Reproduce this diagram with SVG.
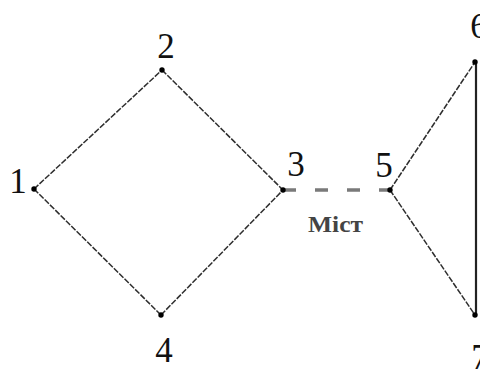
<svg xmlns="http://www.w3.org/2000/svg" width="480" height="369" viewBox="0 0 480 369">
<style>
.edge{stroke:#2e2e2e;stroke-width:1.5;fill:none;stroke-dasharray:6 1.5}
.bridge{stroke:#7a7a7a;stroke-width:3.5;fill:none;stroke-dasharray:13 19}
.solid{stroke:#222;stroke-width:2.2;fill:none}
.dot{fill:#000}
.lbl{font-family:"Liberation Serif","Times New Roman",serif;font-size:35px;fill:#111;text-anchor:middle}
.cap{font-family:"Liberation Serif","Times New Roman",serif;font-size:23px;font-weight:bold;fill:#444}
</style>
<rect width="480" height="369" fill="#fff"/>
<g id="connectors">
<line class="edge" x1="34" y1="189" x2="162" y2="70"/>
<line class="edge" x1="162" y1="70" x2="283" y2="190"/>
<line class="edge" x1="34" y1="189" x2="161" y2="315"/>
<line class="edge" x1="161" y1="315" x2="283" y2="190"/>
<line class="bridge" x1="283" y1="190" x2="390" y2="190"/>
<line class="edge" x1="390" y1="190" x2="475" y2="62"/>
<line class="edge" x1="390" y1="190" x2="475" y2="315"/>
<line class="solid" x1="476" y1="62" x2="476" y2="315"/>
<text class="cap" x="308" y="232" textLength="55" lengthAdjust="spacingAndGlyphs">Міст</text>
</g>
<g id="n1"><circle class="dot" cx="34" cy="189" r="2.7"/><text class="lbl" x="18" y="193">1</text></g>
<g id="n2"><circle class="dot" cx="162" cy="70" r="2.7"/><text class="lbl" x="166" y="58">2</text></g>
<g id="n3"><circle class="dot" cx="283" cy="190" r="2.7"/><text class="lbl" x="296" y="176">3</text></g>
<g id="n4"><circle class="dot" cx="161" cy="315" r="2.7"/><text class="lbl" x="164" y="362">4</text></g>
<g id="n5"><circle class="dot" cx="390" cy="190" r="2.7"/><text class="lbl" x="384" y="177">5</text></g>
<g id="n6"><circle class="dot" cx="475" cy="62" r="2.7"/><text class="lbl" x="479" y="38">6</text></g>
<g id="n7"><circle class="dot" cx="475" cy="315" r="2.7"/><text class="lbl" x="480" y="369">7</text></g>
</svg>
